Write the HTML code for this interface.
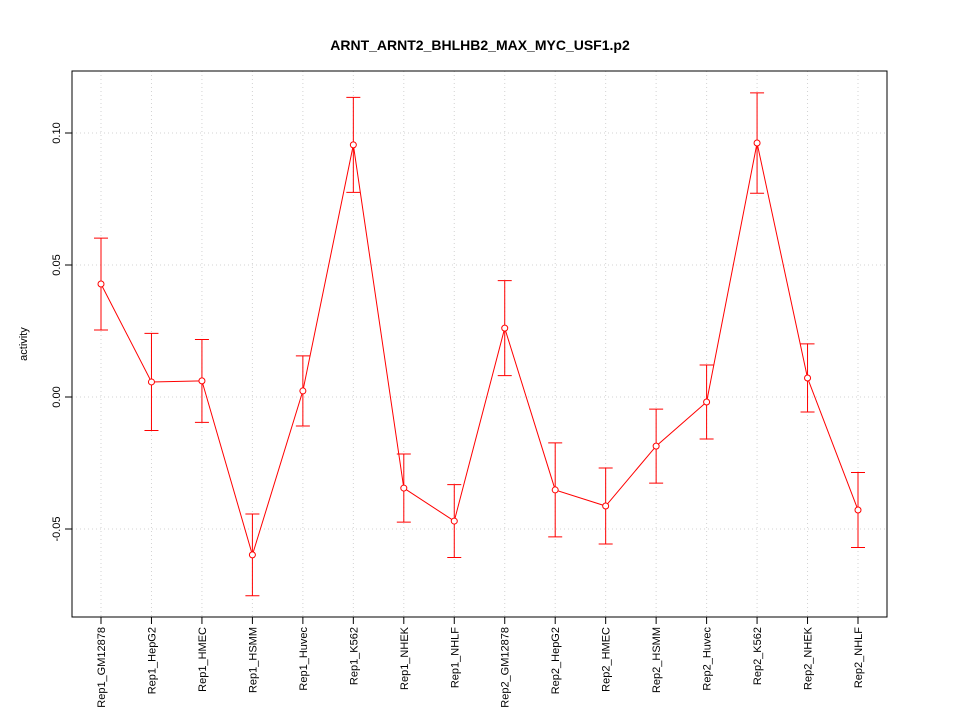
<!DOCTYPE html>
<html><head><meta charset="utf-8"><style>
html,body{margin:0;padding:0;background:#fff;}
svg{display:block;font-family:"Liberation Sans",sans-serif;}
</style></head><body>
<svg id="chart" width="960" height="720" xmlns="http://www.w3.org/2000/svg">
<text x="480" y="50" text-anchor="middle" font-size="14" font-weight="bold">ARNT_ARNT2_BHLHB2_MAX_MYC_USF1.p2</text>
<text transform="translate(27,344) rotate(-90)" text-anchor="middle" font-size="11">activity</text>
<g id="grid"></g><g id="axes"></g><g id="marks"></g>
</svg>
<script>
const categories=["Rep1_GM12878","Rep1_HepG2","Rep1_HMEC","Rep1_HSMM","Rep1_Huvec","Rep1_K562","Rep1_NHEK","Rep1_NHLF","Rep2_GM12878","Rep2_HepG2","Rep2_HMEC","Rep2_HSMM","Rep2_Huvec","Rep2_K562","Rep2_NHEK","Rep2_NHLF"];
const values=[0.0428,0.0057,0.0061,-0.0598,0.0023,0.0955,-0.0345,-0.047,0.0261,-0.0352,-0.0413,-0.0186,-0.0019,0.0962,0.0072,-0.0428];
const errors=[0.0174,0.0184,0.0157,0.0155,0.0133,0.018,0.0129,0.0138,0.018,0.0178,0.0144,0.014,0.014,0.019,0.0129,0.0142];
const yTicks=[-0.05,0,0.05,0.10];
const yTickLabels=["-0.05","0.00","0.05","0.10"];
const NS="http://www.w3.org/2000/svg";
const L=72,R=887,T=71,B=617;
const x=i=>101+i*(858-101)/(categories.length-1);
const y=v=>397-v*2640;
function mk(tag,attrs,parent){const e=document.createElementNS(NS,tag);for(const k in attrs)e.setAttribute(k,attrs[k]);document.getElementById(parent).appendChild(e);return e;}
categories.forEach((c,i)=>{
 let g=mk('line',{x1:x(i),x2:x(i),y1:T,y2:B,stroke:'#d3d3d3','stroke-dasharray':'1,3'},'grid');
 
 
 let t=mk('line',{x1:x(i),x2:x(i),y1:B,y2:B+7,stroke:'#000'},'axes');
 
 
 let l=mk('text',{transform:`translate(${x(i)+4},${B+10}) rotate(-90)`,'text-anchor':'end','font-size':'11'},'axes');
 l.textContent=c;
 
 
});
yTicks.forEach((v,i)=>{
 let g=mk('line',{x1:L,x2:R,y1:y(v),y2:y(v),stroke:'#d3d3d3','stroke-dasharray':'1,3'},'grid');
 
 
 let t=mk('line',{x1:L-7,x2:L,y1:y(v),y2:y(v),stroke:'#000'},'axes');
 
 
 let l=mk('text',{transform:`translate(${L-12},${y(v)}) rotate(-90)`,'text-anchor':'middle','font-size':'11'},'axes');
 l.textContent=yTickLabels[i];
 
 
});
let box=mk('rect',{x:L,y:T,width:R-L,height:B-T,fill:'none',stroke:'#000'},'axes');


let line=mk('polyline',{points:values.map((v,i)=>x(i)+','+y(v)).join(' '),fill:'none',stroke:'#ff0000'},'marks');


values.forEach((v,i)=>{
 const hi=y(v+errors[i]),lo=y(v-errors[i]),cx=x(i);
 let e=mk('path',{d:`M${cx},${hi}V${lo}M${cx-7},${hi}H${cx+7}M${cx-7},${lo}H${cx+7}`,stroke:'#ff0000',fill:'none'},'marks');
 
 
 let p=mk('circle',{cx:cx,cy:y(v),r:3,fill:'#fff',stroke:'#ff0000'},'marks');
 
 
});
</script>
</body></html>
